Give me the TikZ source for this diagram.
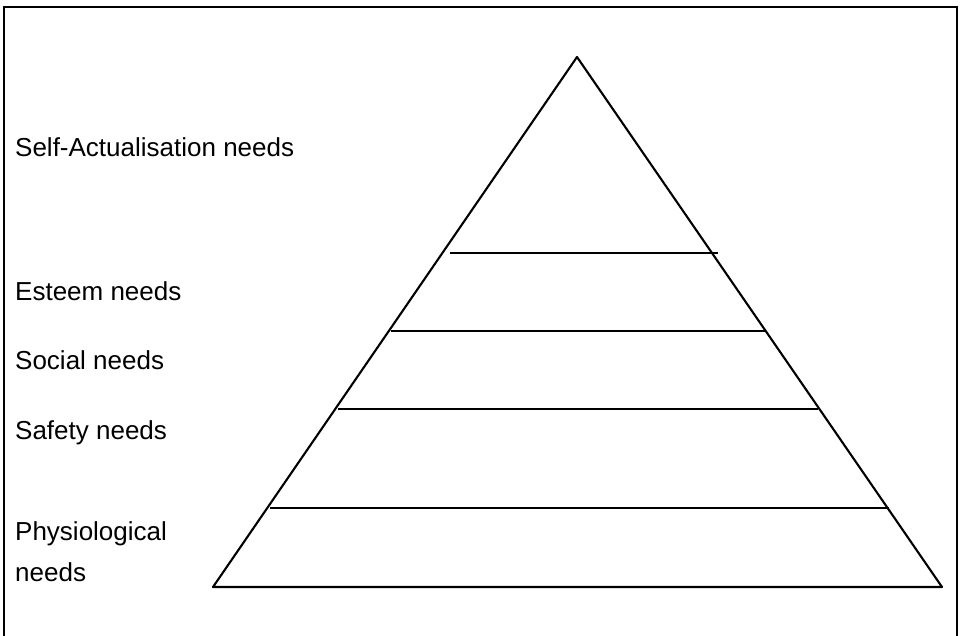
\documentclass[tikz,border=0pt]{standalone}
\usepackage{fontspec}
\setmainfont{Liberation Sans}
\begin{document}
\begin{tikzpicture}[x=1pt,y=-1pt,
  edge/.style={line width=2.1pt,line join=round},
  frame/.style={line width=2.6pt},
  lbl/.style={anchor=base west,inner sep=0pt,font=\fontsize{26}{30}\selectfont}]
\useasboundingbox (0,0) rectangle (960,636);
% frame
\draw[frame] (4,640) -- (4,7) -- (957,7) -- (957,640);
% pyramid
\coordinate (apex) at (577,57);
\coordinate (bl) at (213,587);
\coordinate (br) at (942,587);
\draw[edge] (bl) -- (apex) -- (br) -- cycle;
\draw[edge] (450,253) -- (718,253);
\draw[edge] (391,331) -- (766,331);
\draw[edge] (338,409) -- (818,409);
\draw[edge] (270,508) -- (889,508);
% labels
\node[lbl] (sa) at (15,157) {Self-Actualisation needs};
\node[lbl] (es) at (15,300) {Esteem needs};
\node[lbl] (so) at (15,369) {Social needs};
\node[lbl] (sf) at (15,439) {Safety needs};
\node[lbl] (ph) at (15,540) {Physiological};
\node[lbl] (ph2) at (15,581) {needs};
\end{tikzpicture}
\end{document}
